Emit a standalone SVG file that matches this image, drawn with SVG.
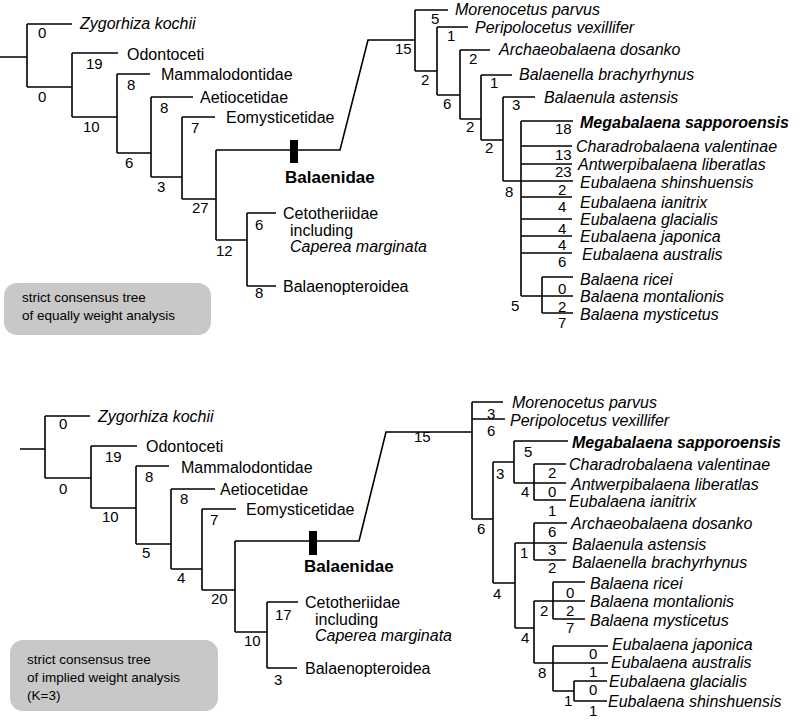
<svg xmlns="http://www.w3.org/2000/svg" width="800" height="725" viewBox="0 0 800 725">
<style>
text{font-family:"Liberation Sans",Arial,sans-serif;fill:#000}
.t{font-size:16px}
.i{font-size:16px;font-style:italic}
.b{font-size:16px;font-style:italic;font-weight:bold}
.n{font-size:15px}
.f{font-size:17px;font-weight:bold}
.k{font-size:13.5px}
.e{fill:none;stroke:#000;stroke-width:1.6}
.box{fill:#c8c8c8}
</style>
<rect width="800" height="725" fill="#fff"/>
<g id="connectors">
<path class="e" d="M0 57H27M27 24V87M27 24H72M27 87H72M72 53V117M72 53H118M72 117H117M117 74V153M117 74H150M117 153H151M151 97V177M151 97H193M151 177H182M182 117V199M182 117H215M182 199H216M216 150V240M216 150H340L368 40H415M216 240H247M247 213V286M247 213H276M247 286H276
M415 10V71M415 10H448M415 71H437M437 27V95M437 27H468M437 95H460M460 50V119M460 50H490M460 119H481M481 75V140M481 75H512M481 140H503M503 97V181M503 97H535M503 181H521M521 121V296M521 121H573M521 146H572M521 164H572M521 181H573M521 197H572M521 219H572M521 236H572M521 253H572M521 296H542M542 277V313M542 277H573M542 296H573M542 313H573"/>
<path class="e" d="M20 449H45M45 416V478M45 416H90M45 478H91M91 446V508M91 446H137M91 508H136M136 466V544M136 466H169M136 544H171M171 489V569M171 489H215M171 569H202M202 509V590M202 509H236M202 590H235M235 541V632M235 541H359L386 432H472M235 632H267M267 602V668M267 602H298M267 668H297
M472 402V519M472 402H503M472 419H505M472 519H493M493 462V583M493 462H514M514 441V483M514 441H568M514 483H534M534 464V500M534 464H566M534 483H566M534 500H566M493 583H515M515 543V628M515 543H534M534 523V560M534 523H567M534 543H567M534 560H566M515 628H534M534 601V663M534 601H553M553 582V619M553 582H585M553 601H585M553 619H585M534 663H608M553 646V691M553 646H608M553 691H574M574 681V701M574 681H607M574 701H607"/>
<rect x="290" y="140" width="8" height="23"/>
<rect x="309" y="531" width="8" height="24"/>
</g>
<g id="top-tree">
<g id="t-zygo"><text class="i" x="80" y="29">Zygorhiza kochii</text><text class="n" x="38" y="38">0</text><text class="n" x="38" y="102">0</text></g>
<g id="t-odonto"><text class="t" x="127" y="60">Odontoceti</text><text class="n" x="86" y="69">19</text><text class="n" x="83" y="132">10</text></g>
<g id="t-mammalo"><text class="t" x="161" y="80">Mammalodontidae</text><text class="n" x="127" y="90">8</text><text class="n" x="125" y="168">6</text></g>
<g id="t-aetio"><text class="t" x="200" y="103">Aetiocetidae</text><text class="n" x="160" y="113">8</text><text class="n" x="157" y="192">3</text></g>
<g id="t-eomy"><text class="t" x="226" y="123">Eomysticetidae</text><text class="n" x="191" y="133">7</text><text class="n" x="192" y="213">27</text></g>
<g id="t-balaenidae"><text class="f" x="285" y="183">Balaenidae</text></g>
<g id="t-ceto"><text class="t" x="283" y="219">Cetotheriidae</text><text class="t" x="290" y="236">including</text><text class="i" x="290" y="252">Caperea marginata</text><text class="n" x="255" y="230">6</text><text class="n" x="216" y="256">12</text></g>
<g id="t-balaenop"><text class="t" x="283" y="292">Balaenopteroidea</text><text class="n" x="255" y="298">8</text></g>
<g id="t-box"><rect class="box" x="4" y="283" width="207" height="52" rx="13"/><text class="k" x="22" y="302">strict consensus tree</text><text class="k" x="22" y="320">of equally weight analysis</text></g>
<g id="t-15"><text class="n" x="395" y="54">15</text></g>
<g id="t-moreno"><text class="i" x="455" y="15">Morenocetus parvus</text><text class="n" x="431" y="24">5</text><text class="n" x="421" y="85">2</text></g>
<g id="t-peri"><text class="i" x="475" y="33">Peripolocetus vexillifer</text><text class="n" x="447" y="41">1</text><text class="n" x="443" y="109">6</text></g>
<g id="t-archaeo"><text class="i" x="499" y="55">Archaeobalaena dosanko</text><text class="n" x="469" y="64">2</text><text class="n" x="466" y="132">2</text></g>
<g id="t-balaenella"><text class="i" x="519" y="80">Balaenella brachyrhynus</text><text class="n" x="490" y="88">1</text><text class="n" x="485" y="153">2</text></g>
<g id="t-balaenula"><text class="i" x="544" y="103">Balaenula astensis</text><text class="n" x="512" y="110">3</text><text class="n" x="505" y="197">8</text></g>
<g id="t-mega"><text class="b" x="580" y="128">Megabalaena sapporoensis</text><text class="n" x="555" y="134">18</text></g>
<g id="t-charadro"><text class="i" x="576" y="152">Charadrobalaena valentinae</text><text class="n" x="555" y="160">13</text></g>
<g id="t-antwerp"><text class="i" x="578" y="170">Antwerpibalaena liberatlas</text><text class="n" x="555" y="177">23</text></g>
<g id="t-shinshu"><text class="i" x="580" y="188">Eubalaena shinshuensis</text><text class="n" x="558" y="195">2</text></g>
<g id="t-ianitrix"><text class="i" x="580" y="208">Eubalaena ianitrix</text><text class="n" x="558" y="212">4</text></g>
<g id="t-glacialis"><text class="i" x="580" y="225">Eubalaena glacialis</text><text class="n" x="558" y="234">4</text></g>
<g id="t-japonica"><text class="i" x="580" y="242">Eubalaena japonica</text><text class="n" x="558" y="250">4</text></g>
<g id="t-australis"><text class="i" x="582" y="260">Eubalaena australis</text><text class="n" x="558" y="267">6</text></g>
<g id="t-ricei"><text class="i" x="580" y="285">Balaena ricei</text><text class="n" x="558" y="294">0</text><text class="n" x="511" y="311">5</text></g>
<g id="t-montal"><text class="i" x="580" y="302">Balaena montalionis</text><text class="n" x="558" y="312">2</text></g>
<g id="t-myst"><text class="i" x="580" y="320">Balaena mysticetus</text><text class="n" x="558" y="328">7</text></g>
</g>
<g id="bottom-tree">
<g id="b-zygo"><text class="i" x="98" y="422">Zygorhiza kochii</text><text class="n" x="59" y="429">0</text><text class="n" x="59" y="494">0</text></g>
<g id="b-odonto"><text class="t" x="146" y="452">Odontoceti</text><text class="n" x="105" y="462">19</text><text class="n" x="102" y="522">10</text></g>
<g id="b-mammalo"><text class="t" x="181" y="473">Mammalodontidae</text><text class="n" x="145" y="482">8</text><text class="n" x="142" y="558">5</text></g>
<g id="b-aetio"><text class="t" x="220" y="495">Aetiocetidae</text><text class="n" x="180" y="504">8</text><text class="n" x="177" y="583">4</text></g>
<g id="b-eomy"><text class="t" x="246" y="515">Eomysticetidae</text><text class="n" x="210" y="525">7</text><text class="n" x="211" y="604">20</text></g>
<g id="b-balaenidae"><text class="f" x="304" y="572">Balaenidae</text></g>
<g id="b-ceto"><text class="t" x="305" y="608">Cetotheriidae</text><text class="t" x="315" y="625">including</text><text class="i" x="315" y="641">Caperea marginata</text><text class="n" x="275" y="620">17</text><text class="n" x="244" y="646">10</text></g>
<g id="b-balaenop"><text class="t" x="305" y="674">Balaenopteroidea</text><text class="n" x="274" y="685">3</text></g>
<g id="b-box"><rect class="box" x="10" y="640" width="208" height="71" rx="13"/><text class="k" x="27" y="664">strict consensus tree</text><text class="k" x="27" y="682">of implied weight analysis</text><text class="k" x="27" y="700">(K=3)</text></g>
<g id="b-15"><text class="n" x="414" y="442">15</text></g>
<g id="b-moreno"><text class="i" x="512" y="408">Morenocetus parvus</text><text class="n" x="487" y="419">3</text></g>
<g id="b-peri"><text class="i" x="510" y="426">Peripolocetus vexillifer</text><text class="n" x="487" y="436">6</text><text class="n" x="477" y="534">6</text></g>
<g id="b-mega"><text class="b" x="572" y="448">Megabalaena sapporoensis</text><text class="n" x="524" y="457">5</text><text class="n" x="496" y="479">3</text></g>
<g id="b-charadro"><text class="i" x="569" y="470">Charadrobalaena valentinae</text><text class="n" x="548" y="478">2</text><text class="n" x="521" y="497">4</text></g>
<g id="b-antwerp"><text class="i" x="571" y="490">Antwerpibalaena liberatlas</text><text class="n" x="548" y="497">0</text></g>
<g id="b-ianitrix"><text class="i" x="569" y="507">Eubalaena ianitrix</text><text class="n" x="548" y="516">1</text><text class="n" x="493" y="599">4</text></g>
<g id="b-archaeo"><text class="i" x="571" y="529">Archaeobalaena dosanko</text><text class="n" x="548" y="537">6</text><text class="n" x="520" y="558">1</text></g>
<g id="b-balaenula"><text class="i" x="572" y="550">Balaenula astensis</text><text class="n" x="548" y="555">3</text></g>
<g id="b-balaenella"><text class="i" x="572" y="568">Balaenella brachyrhynus</text><text class="n" x="548" y="573">2</text><text class="n" x="521" y="643">4</text></g>
<g id="b-ricei"><text class="i" x="590" y="589">Balaena ricei</text><text class="n" x="566" y="598">0</text><text class="n" x="540" y="616">2</text></g>
<g id="b-montal"><text class="i" x="590" y="607">Balaena montalionis</text><text class="n" x="566" y="616">2</text></g>
<g id="b-myst"><text class="i" x="590" y="626">Balaena mysticetus</text><text class="n" x="566" y="633">7</text></g>
<g id="b-japonica"><text class="i" x="612" y="650">Eubalaena japonica</text><text class="n" x="589" y="659">0</text><text class="n" x="538" y="678">8</text></g>
<g id="b-australis"><text class="i" x="611" y="668">Eubalaena australis</text><text class="n" x="589" y="677">1</text></g>
<g id="b-glacialis"><text class="i" x="609" y="687">Eubalaena glacialis</text><text class="n" x="589" y="695">0</text><text class="n" x="564" y="706">1</text></g>
<g id="b-shinshu"><text class="i" x="608" y="707">Eubalaena shinshuensis</text><text class="n" x="589" y="716">1</text></g>
</g>
</svg>
